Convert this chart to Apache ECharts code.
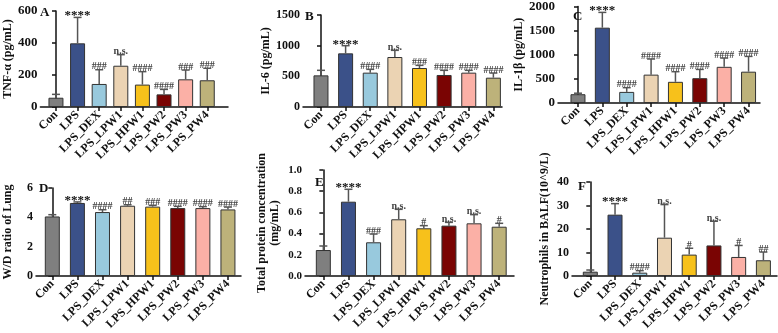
<!DOCTYPE html>
<html>
<head>
<meta charset="utf-8">
<script src="https://cdn.jsdelivr.net/npm/echarts@6/dist/echarts.min.js"></script>
<style>
  html, body { margin: 0; padding: 0; background: #fff; }
  #chart { width: 778px; height: 333px; }
</style>
</head>
<body>
<div id="chart"></div>
<script>
// groups and colours
const groups = ['Con', 'LPS', 'LPS_DEX', 'LPS_LPW1', 'LPS_HPW1', 'LPS_PW2', 'LPS_PW3', 'LPS_PW4']
const barColors = ['#7f7f7f', '#3b5189', '#98c9dd', '#ebd3b3', '#f7c11b', '#7a0403', '#fbb0a6', '#bdb27a']
const groupIdx = [0, 1, 2, 3, 4, 5, 6, 7]

// A - TNF-α
const tnfMean = [58, 398, 144, 258, 140, 79, 173, 167]
const tnfSd = [21, 162, 89, 69, 81, 31, 58, 75]
const tnfSig = ['', '****', '###', 'n.s.', '####', '####', '###', '###']
// B - IL-6
const il6Mean = [516, 875, 560, 815, 636, 522, 560, 478]
const il6Sd = [82, 125, 54, 109, 43, 76, 38, 76]
const il6Sig = ['', '****', '####', 'n.s.', '###', '####', '####', '####']
// C - IL-1β
const il1bMean = [182, 1561, 230, 588, 439, 514, 750, 649]
const il1bSd = [21, 317, 88, 324, 210, 182, 182, 317]
const il1bSig = ['', '****', '####', '####', '####', '####', '####', '####']
// D - W/D ratio
const wdMean = [4.06, 4.98, 4.36, 4.79, 4.73, 4.63, 4.63, 4.54]
const wdSd = [0.12, 0.07, 0.16, 0.07, 0.09, 0.12, 0.10, 0.16]
const wdSig = ['', '****', '####', '##', '###', '####', '####', '####']
// E - total protein
const proteinMean = [0.245, 0.701, 0.318, 0.535, 0.450, 0.475, 0.497, 0.465]
const proteinSd = [0.038, 0.117, 0.078, 0.094, 0.025, 0.031, 0.082, 0.032]
const proteinSig = ['', '****', '###', 'n.s.', '#', 'n.s.', 'n.s.', '#']
// F - neutrophils
const neutroMean = [1.84, 26.1, 1.42, 16.3, 9.1, 13.0, 8.1, 6.7]
const neutroSd = [0.71, 4.7, 0.85, 14.1, 2.7, 10.3, 4.9, 3.5]
const neutroSig = ['', '****', '####', 'n.s.', '#', 'n.s.', '#', '##']

const FONT = '"Liberation Serif", "Times New Roman", serif'

// x range is in group units so the first bar sits a bit off the y axis like in prism
const panels = [
  { letter: 'A', mean: tnfMean, sd: tnfSd, sig: tnfSig, max: 600, interval: 200, name: 'TNF-α (pg/mL)',
    xr: [-0.72, 7.96], tickSize: 13,
    grid: { left: 36, top: 11, width: 192, height: 96 }, nameGap: 25, title: [40, 6] },
  { letter: 'B', mean: il6Mean, sd: il6Sd, sig: il6Sig, max: 1500, interval: 500, name: 'IL-6 (pg/mL)',
    xr: [-0.73, 7.35], tickSize: 12,
    grid: { left: 303, top: 15, width: 199, height: 92 }, nameGap: 29, title: [305, 10] },
  { letter: 'C', mean: il1bMean, sd: il1bSd, sig: il1bSig, max: 2000, interval: 500, name: 'IL-1β (pg/mL)',
    xr: [-0.82, 7.47], tickSize: 13,
    grid: { left: 558, top: 4, width: 202, height: 99 }, nameGap: 29, title: [573, 10] },
  { letter: 'D', mean: wdMean, sd: wdSd, sig: wdSig, max: 6, interval: 2, name: 'W/D ratio of Lung',
    xr: [-0.65, 7.52], tickSize: 12,
    grid: { left: 36, top: 188, width: 205, height: 88 }, nameGap: 22, title: [39, 182] },
  { letter: 'E', mean: proteinMean, sd: proteinSd, sig: proteinSig, max: 1, interval: 0.2,
    name: 'Total protein concentration\n(mg/mL)', fmt: v => v.toFixed(1),
    xr: [-0.73, 7.59], tickSize: 11,
    grid: { left: 305, top: 170, width: 209, height: 106 }, nameGap: 24, title: [315, 176] },
  { letter: 'F', mean: neutroMean, sd: neutroSd, sig: neutroSig, max: 40, interval: 10, name: 'Neutrophils in BALF(10^9/L)',
    xr: [-0.74, 7.55], tickSize: 12,
    grid: { left: 572, top: 182, width: 205, height: 94 }, nameGap: 21, title: [578, 180] }
]

function errorBars(sig) {
  return function (params, api) {
    const i = api.value(0)
    const m = api.value(1)
    const t = m + api.value(2)
    const base = api.coord([i, m])
    const top = api.coord([i, t])
    const lineStyle = { stroke: '#555', lineWidth: 1.5 }
    const s = sig[params.dataIndex]
    return {
      type: 'group',
      children: [
        { type: 'line', shape: { x1: base[0], y1: base[1], x2: top[0], y2: top[1] }, style: lineStyle },
        { type: 'line', shape: { x1: top[0] - 4, y1: top[1], x2: top[0] + 4, y2: top[1] }, style: lineStyle },
        { type: 'text', x: top[0], y: top[1] + (s === '****' ? 5 : 2),
          style: { text: s, align: 'center', verticalAlign: 'bottom',
            fill: s === '****' ? '#111' : '#444',
            font: (s === '****' ? 'bold 13px ' : 'bold 10px ') + FONT } }
      ]
    }
  }
}

const option = { animation: false, grid: [], xAxis: [], yAxis: [], series: [], title: [] }

panels.forEach((p, k) => {
  option.grid.push(p.grid)
  option.title.push({ text: p.letter, left: p.title[0], top: p.title[1], padding: 0,
    textStyle: { fontFamily: FONT, fontWeight: 'bold', fontSize: 13, color: '#111' } })
  option.xAxis.push({
    gridIndex: k, type: 'value', min: p.xr[0], max: p.xr[1],
    splitLine: { show: false },
    axisLine: { lineStyle: { color: '#111', width: 1.5 } },
    axisTick: { customValues: groupIdx, length: 4, lineStyle: { color: '#111', width: 1.5 } },
    axisLabel: { customValues: groupIdx, formatter: v => groups[Math.round(v)],
      rotate: 45, margin: 6, color: '#111',
      fontFamily: FONT, fontWeight: 'bold', fontSize: 12 }
  })
  option.yAxis.push({
    gridIndex: k, type: 'value', min: 0, max: p.max, interval: p.interval,
    name: p.name, nameLocation: 'middle', nameGap: p.nameGap,
    nameTextStyle: { fontFamily: FONT, fontWeight: 'bold', fontSize: 12, color: '#111', lineHeight: 13 },
    splitLine: { show: false },
    axisLine: { show: true, lineStyle: { color: '#111', width: 1.5 } },
    axisTick: { show: true, length: 4, lineStyle: { color: '#111', width: 1.5 } },
    axisLabel: { margin: 3, color: '#111', fontFamily: FONT, fontWeight: 'bold', fontSize: p.tickSize,
      formatter: p.fmt || (v => String(v)) }
  })
  option.series.push({
    type: 'bar', xAxisIndex: k, yAxisIndex: k, barWidth: 15,
    data: p.mean.map((v, i) => ({ value: [i, v], itemStyle: { color: barColors[i] } })),
    itemStyle: { borderColor: '#333', borderWidth: 1 }
  })
  option.series.push({
    type: 'custom', xAxisIndex: k, yAxisIndex: k, clip: false, z: 3,
    renderItem: errorBars(p.sig),
    data: p.mean.map((v, i) => [i, v, p.sd[i]])
  })
})

const myChart = echarts.init(document.getElementById('chart'))
myChart.setOption(option)
</script>
</body>
</html>
